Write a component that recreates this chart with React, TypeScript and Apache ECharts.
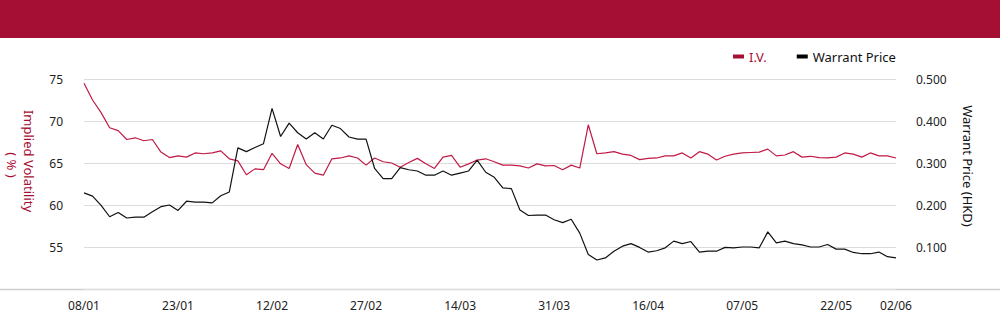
import React, { useEffect, useRef } from "react";
import * as echarts from "echarts";

const dates = [
  "08/01", "09/01", "10/01", "11/01", "12/01", "15/01", "16/01", "17/01", "18/01", "19/01", "22/01", "23/01",
  "24/01", "25/01", "26/01", "29/01", "30/01", "31/01", "01/02", "02/02", "05/02", "09/02", "12/02",
  "13/02", "14/02", "15/02", "16/02", "19/02", "20/02", "21/02", "22/02", "23/02", "26/02", "27/02",
  "28/02", "01/03", "02/03", "05/03", "06/03", "07/03", "08/03", "09/03", "12/03", "13/03", "14/03",
  "15/03", "16/03", "19/03", "20/03", "21/03", "22/03", "23/03", "26/03", "27/03", "28/03", "31/03",
  "01/04", "03/04", "04/04", "06/04", "09/04", "10/04", "11/04", "12/04", "13/04", "15/04", "16/04",
  "19/04", "20/04", "23/04", "24/04", "25/04", "26/04", "27/04", "30/04", "02/05", "03/05", "07/05",
  "08/05", "09/05", "10/05", "11/05", "14/05", "15/05", "16/05", "17/05", "18/05", "21/05", "22/05",
  "23/05", "24/05", "25/05", "28/05", "29/05", "31/05", "02/06",
];

const ivValues = [
  74.5, 72.5, 71.0, 69.2, 68.85, 67.8, 68.0, 67.65, 67.8, 66.3,
  65.65, 65.85, 65.7, 66.2, 66.1, 66.2, 66.45, 65.5, 65.25, 63.6,
  64.3, 64.2, 66.15, 64.9, 64.35, 67.2, 64.8, 63.8, 63.55, 65.5,
  65.6, 65.85, 65.6, 64.75, 65.6, 65.15, 65.0, 64.5, 65.05, 65.55,
  64.9, 64.35, 65.7, 65.9, 64.5, 64.9, 65.35, 65.5, 65.15, 64.75,
  64.75, 64.65, 64.4, 64.9, 64.65, 64.7, 64.2, 64.75, 64.4, 69.55,
  66.1, 66.2, 66.35, 66.05, 65.9, 65.4, 65.55, 65.6, 65.85, 65.85,
  66.2, 65.6, 66.35, 66.05, 65.35, 65.8, 66.05, 66.2, 66.25, 66.3,
  66.65, 65.85, 65.95, 66.35, 65.7, 65.8, 65.65, 65.6, 65.7, 66.2,
  66.05, 65.7, 66.2, 65.85, 65.85, 65.6,
];

const priceValues = [
  0.229, 0.221, 0.199, 0.172, 0.182, 0.169, 0.171, 0.171, 0.184, 0.196,
  0.2, 0.187, 0.209, 0.207, 0.207, 0.205, 0.222, 0.231, 0.336, 0.327,
  0.337, 0.346, 0.43, 0.363, 0.395, 0.372, 0.357, 0.372, 0.357, 0.39,
  0.382, 0.362, 0.357, 0.357, 0.287, 0.263, 0.263, 0.289, 0.284, 0.281,
  0.271, 0.271, 0.281, 0.271, 0.276, 0.281, 0.307, 0.278, 0.266, 0.241,
  0.239, 0.188, 0.175, 0.176, 0.176, 0.165, 0.158, 0.166, 0.133, 0.082,
  0.069, 0.074, 0.09, 0.102, 0.108, 0.099, 0.088, 0.091, 0.098, 0.114,
  0.108, 0.113, 0.088, 0.09, 0.09, 0.099, 0.098, 0.1, 0.1, 0.098,
  0.136, 0.11, 0.114, 0.108, 0.105, 0.1, 0.1, 0.106, 0.095, 0.095,
  0.087, 0.084, 0.084, 0.088, 0.077, 0.074,
];

const seriesNames = ["I.V.", "Warrant Price"];
const leftAxisName = "Implied Volatility";
const leftAxisUnit = "( % )";
const rightAxisName = "Warrant Price (HKD)";

const CRIMSON = "#A50F33";
const LINE_RED = "#C01A45";
const FONT = "'Noto Sans', sans-serif";

export default function App() {
  const ref = useRef<HTMLDivElement>(null);

  useEffect(() => {
    document.body.style.margin = "0";
    if (!ref.current) return;
    const chart = echarts.init(ref.current, null, { renderer: "svg" });
    const lastIdx = dates.length - 1;
    chart.setOption({
      animation: false,
      textStyle: { fontFamily: FONT },
      grid: { left: 84, right: 104, top: 79, bottom: 35 },
      legend: {
        left: 733,
        top: 50,
        padding: 0,
        icon: "rect",
        itemWidth: 11,
        itemHeight: 4,
        itemGap: 30,
        textStyle: { fontSize: 13, fontFamily: FONT, color: "#111" },
        data: [
          { name: seriesNames[0], textStyle: { color: CRIMSON }, itemStyle: { color: CRIMSON } },
          { name: seriesNames[1], itemStyle: { color: "#000" } },
        ],
      },
      xAxis: {
        type: "category",
        data: dates,
        boundaryGap: false,
        axisLine: { show: false },
        axisTick: { show: false },
        axisLabel: {
          interval: (i: number) => i % 11 === 0 || i === lastIdx,
          margin: 10,
          fontSize: 12,
          color: "#222",
          fontFamily: FONT,
        },
        splitLine: { show: false },
      },
      yAxis: [
        {
          type: "value",
          min: 50,
          max: 75,
          interval: 5,
          axisLine: { show: false },
          axisTick: { show: false },
          axisLabel: { showMinLabel: false, margin: 21, fontSize: 12, color: "#222", fontFamily: FONT },
          splitLine: { lineStyle: { color: "#dcdcdc", width: 1 } },
        },
        {
          type: "value",
          min: 0,
          max: 0.5,
          interval: 0.1,
          axisLine: { show: false },
          axisTick: { show: false },
          axisLabel: {
            showMinLabel: false,
            margin: 20,
            fontSize: 12,
            color: "#222",
            fontFamily: FONT,
            formatter: (v: number) => v.toFixed(3),
          },
          splitLine: { show: false },
        },
      ],
      series: [
        {
          name: seriesNames[0],
          type: "line",
          yAxisIndex: 0,
          data: ivValues,
          showSymbol: false,
          symbol: "none",
          lineStyle: { color: LINE_RED, width: 1.2 },
          itemStyle: { color: CRIMSON },
        },
        {
          name: seriesNames[1],
          type: "line",
          yAxisIndex: 1,
          data: priceValues,
          showSymbol: false,
          symbol: "none",
          lineStyle: { color: "#111", width: 1.2 },
          itemStyle: { color: "#000" },
        },
      ],
      graphic: [
        { type: "rect", left: 0, top: 0, shape: { x: 0, y: 0, width: 1000, height: 38 }, style: { fill: CRIMSON }, silent: true },
        { type: "line", shape: { x1: 0, y1: 289.5, x2: 1000, y2: 289.5 }, style: { stroke: "#cfcfcf", lineWidth: 1.5 }, silent: true },
        {
          type: "text",
          x: 29,
          y: 161,
          rotation: -Math.PI / 2,
          style: { text: leftAxisName, fill: CRIMSON, font: `13px ${FONT}`, textAlign: "center", textVerticalAlign: "middle", align: "center", verticalAlign: "middle" },
          silent: true,
        },
        {
          type: "text",
          x: 12,
          y: 165,
          rotation: -Math.PI / 2,
          style: { text: leftAxisUnit, fill: CRIMSON, font: `13px ${FONT}`, textAlign: "center", textVerticalAlign: "middle", align: "center", verticalAlign: "middle" },
          silent: true,
        },
        {
          type: "text",
          x: 968,
          y: 166,
          rotation: -Math.PI / 2,
          style: { text: rightAxisName, fill: "#111", font: `13px ${FONT}`, textAlign: "center", textVerticalAlign: "middle", align: "center", verticalAlign: "middle" },
          silent: true,
        },
      ],
    });
    return () => chart.dispose();
  }, []);

  return (
    <div style={{ position: "absolute", left: 0, top: 0, width: 1000, height: 324 }}>
      <div ref={ref} style={{ width: 1000, height: 324 }} />
    </div>
  );
}
